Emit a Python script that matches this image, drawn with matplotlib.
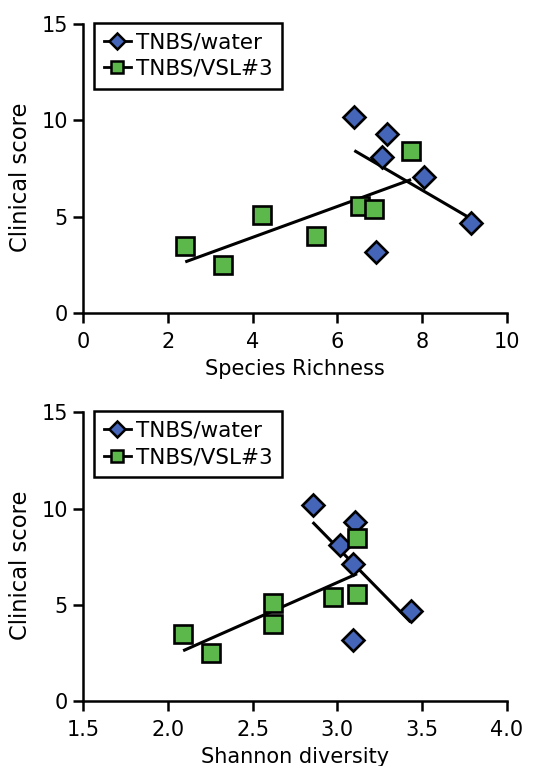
import numpy as np
import matplotlib
matplotlib.use("Agg")
import matplotlib.pyplot as plt

# Species richness panel
rich_water_x = [6.40, 7.16, 7.06, 8.04, 9.15, 6.91]
rich_water_y = [10.16, 9.30, 8.09, 7.08, 4.67, 3.16]
rich_vsl_x = [2.41, 3.29, 4.23, 5.49, 6.53, 6.86, 7.74]
rich_vsl_y = [3.46, 2.47, 5.10, 3.97, 5.53, 5.39, 8.42]

# Shannon diversity panel
shan_water_x = [2.854, 3.104, 3.015, 3.094, 3.432, 3.090]
shan_water_y = [10.20, 9.32, 8.11, 7.10, 4.69, 3.17]
shan_vsl_x = [2.090, 2.253, 2.618, 2.618, 2.972, 3.114, 3.116]
shan_vsl_y = [3.46, 2.48, 5.11, 4.00, 5.40, 5.56, 8.45]

labels = ["TNBS/water", "TNBS/VSL#3"]
blue = "#4565b8"
green = "#5cb84a"

plt.rcParams['font.family'] = ['DejaVu Sans']

fig = plt.figure(figsize=(5.33, 7.66), dpi=100)
ax1 = fig.add_axes([0.156, 0.5914, 0.795, 0.3773])
ax2 = fig.add_axes([0.156, 0.0849, 0.795, 0.3768])


def panel(ax, wx, wy, vx, vy, xlim, xticks, xticklabels, xlabel):
    for x, y in ((vx, vy), (wx, wy)):
        x = np.asarray(x); y = np.asarray(y)
        m, b = np.polyfit(x, y, 1)
        xs = np.array([x.min(), x.max()])
        ax.plot(xs, m * xs + b, color='black', lw=2.2, zorder=2,
                solid_capstyle='butt')
    ax.plot(wx, wy, linestyle='none', marker='D', markersize=11,
            markerfacecolor=blue, markeredgecolor='black', markeredgewidth=1.9,
            zorder=3)
    ax.plot(vx, vy, linestyle='none', marker='s', markersize=13,
            markerfacecolor=green, markeredgecolor='black', markeredgewidth=1.9,
            zorder=3)
    hw, = ax.plot([], [], color='black', lw=2, marker='D', markersize=11.5,
                  markerfacecolor=blue, markeredgecolor='black', markeredgewidth=1.8)
    hv, = ax.plot([], [], color='black', lw=2, marker='s', markersize=12,
                  markerfacecolor=green, markeredgecolor='black', markeredgewidth=1.8)
    leg = ax.legend([hw, hv], labels, loc='upper left', bbox_to_anchor=(0.026, 1.004),
                    borderaxespad=0,
                    fontsize=15.5, handlelength=1.25, handletextpad=0.25,
                    borderpad=0.45, labelspacing=0.3, markerscale=0.7,
                    fancybox=False, framealpha=1, edgecolor='black')
    leg.get_frame().set_linewidth(1.8)
    ax.set_xlim(*xlim)
    ax.set_ylim(0, 15)
    ax.set_xticks(xticks)
    ax.set_xticklabels(xticklabels)
    ax.set_yticks([0, 5, 10, 15])
    for s in ('top', 'right'):
        ax.spines[s].set_visible(False)
    for s in ('left', 'bottom'):
        ax.spines[s].set_linewidth(1.8)
    ax.tick_params(direction='out', length=7.5, width=1.8, labelsize=15)
    ax.tick_params(axis='x', pad=6)
    ax.tick_params(axis='y', pad=3.5)
    ax.set_ylabel("Clinical score", fontsize=16.3)
    ax.yaxis.set_label_coords(-0.12, 0.47)
    ax.set_xlabel(xlabel, fontsize=15, labelpad=5)
    for t in ax.get_xticklabels() + ax.get_yticklabels():
        t.set_clip_on(False)


panel(ax1, rich_water_x, rich_water_y, rich_vsl_x, rich_vsl_y, (0, 10),
      [0, 2, 4, 6, 8, 10], ["0", "2", "4", "6", "8", "10"], "Species Richness")
panel(ax2, shan_water_x, shan_water_y, shan_vsl_x, shan_vsl_y, (1.5, 4.0),
      [1.5, 2.0, 2.5, 3.0, 3.5, 4.0], ["1.5", "2.0", "2.5", "3.0", "3.5", "4.0"],
      "Shannon diversity")

fig.savefig("out.png", dpi=100)
